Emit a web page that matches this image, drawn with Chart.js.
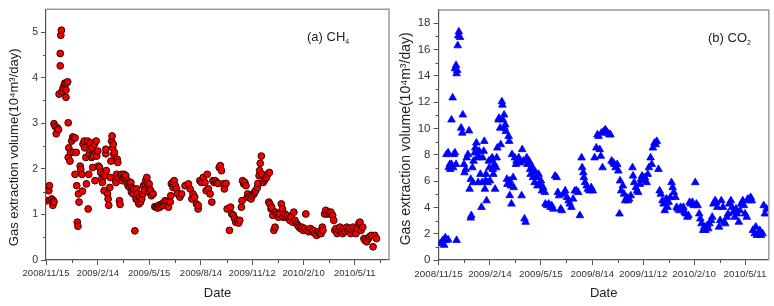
<!DOCTYPE html>
<html><head><meta charset="utf-8">
<script src="https://cdn.jsdelivr.net/npm/chart.js@4.4.0/dist/chart.umd.min.js"></script>
<style>
html,body{margin:0;padding:0;background:#fff;}
#wrap{position:relative;width:774px;height:306px;overflow:hidden;font-family:"Liberation Sans",Arial,sans-serif;}
canvas{position:absolute;top:0;}
#c1{left:0;} #c2{left:395px;}
.note{position:absolute;font-size:13px;color:#222;white-space:nowrap;line-height:15px;}
.note sub{font-size:7px;vertical-align:baseline;position:relative;top:3px;}
</style></head>
<body>
<div id="wrap">
<canvas id="c1" width="395" height="306"></canvas>
<canvas id="c2" width="379" height="306"></canvas>
<div class="note" style="left:307px;top:29px;">(a) CH<sub>4</sub></div>
<div class="note" style="left:708px;top:30px;">(b) CO<sub>2</sub></div>
</div>
<script>
// ---- data (x = days since 2008/11/15) ----
const tickDays = [0, 91, 181, 272, 362, 452, 542];
const tickLabels = ['2008/11/15','2009/2/14','2009/5/15','2009/8/14','2009/11/12','2010/2/10','2010/5/11'];
const minorDays = [45, 136, 226, 317, 407, 497, 587];

const ch4Days = [1,3,5,6,7,10,12,13,14,14,16,18,20,22,23,25,25,26,27,28,30,32,33,35,35,36,38,39,39,40,42,43,45,47,49,51,48,53,51,54,55,56,57,58,60,61,63,64,65,67,68,70,71,73,74,75,76,77,78,80,81,82,83,85,86,87,88,89,91,92,94,96,98,99,101,102,104,105,105,106,108,109,110,112,113,114,115,116,117,118,119,120,122,123,124,125,126,127,129,130,131,133,134,136,137,139,140,142,143,144,146,147,149,150,151,153,154,156,158,159,160,161,163,164,166,168,170,171,173,174,175,177,178,180,181,182,184,185,188,191,193,195,196,198,200,202,204,206,208,209,212,213,215,218,219,220,222,223,225,227,229,231,235,238,244,250,253,256,258,261,264,267,267,270,273,276,279,281,283,285,288,291,293,295,297,300,302,304,306,308,311,313,316,318,322,324,326,329,331,333,336,338,340,343,344,345,347,349,351,353,354,356,359,360,362,365,366,368,371,372,374,375,376,378,379,381,383,385,387,389,392,391,393,395,396,398,400,402,403,406,408,410,413,415,416,419,421,423,426,428,430,433,435,437,440,442,444,447,449,451,454,456,458,461,464,467,469,472,475,478,480,483,485,486,489,491,493,496,498,500,503,505,507,509,511,514,516,518,521,523,525,528,530,532,535,537,539,542,544,546,549,551,553,556,558,560,563,566,568,571,574,577,580];
const ch4Values = [1.30,1.59,1.52,1.63,1.30,1.34,1.20,1.30,1.27,2.99,2.93,2.77,2.90,2.86,3.64,4.26,4.53,4.93,5.04,3.70,3.77,3.84,3.88,3.73,3.57,3.88,3.91,3.01,2.25,2.46,2.17,2.36,2.61,2.70,2.67,2.68,2.36,2.36,1.88,1.63,0.83,0.74,1.45,1.27,2.06,1.99,1.88,1.51,2.54,2.61,2.46,2.25,1.67,2.61,1.12,1.88,2.32,2.43,2.57,2.25,2.46,2.03,2.28,2.54,1.74,2.36,2.61,2.28,2.39,2.06,2.03,1.92,1.78,1.70,1.88,1.52,1.85,2.33,2.43,1.96,1.45,1.34,1.20,1.59,1.81,2.17,2.61,2.72,2.46,2.54,2.32,2.36,1.74,1.70,1.88,2.21,2.14,1.81,1.30,1.22,1.85,1.88,1.74,1.81,1.88,1.78,1.85,1.70,1.74,1.63,1.70,1.59,1.70,1.49,1.59,1.45,1.56,0.64,1.34,1.56,1.45,1.30,1.23,1.38,1.27,1.34,1.45,1.63,1.52,1.67,1.74,1.81,1.70,1.49,1.67,1.56,1.52,1.41,1.45,1.17,1.16,1.17,1.14,1.20,1.16,1.22,1.20,1.25,1.20,1.30,1.27,1.20,1.16,1.27,1.41,1.67,1.70,1.59,1.74,1.63,1.56,1.45,1.38,1.45,1.63,1.67,1.56,1.34,1.45,1.38,1.23,1.12,1.20,1.74,1.70,1.81,1.70,1.52,1.88,1.56,1.45,1.27,1.74,1.70,1.74,1.70,1.68,2.03,2.07,1.96,1.67,1.56,1.68,1.12,0.65,1.16,1.01,0.98,0.91,0.83,0.87,0.81,0.87,1.16,1.30,1.74,1.67,1.70,1.63,1.38,1.45,1.38,1.41,1.34,1.41,1.45,1.49,1.52,1.59,1.68,1.85,1.96,2.12,2.28,1.88,1.70,1.74,1.78,1.81,1.88,1.92,1.27,1.23,1.12,1.16,0.98,0.65,0.72,1.05,1.01,0.94,1.01,1.23,1.12,0.94,1.01,0.94,0.98,0.91,0.87,0.94,0.83,1.05,0.87,0.80,0.76,0.72,0.69,0.72,0.65,0.69,1.01,0.65,0.62,0.69,0.62,0.65,0.58,0.54,0.62,0.58,0.58,0.72,0.65,1.01,1.09,1.01,1.05,1.01,1.05,0.98,0.87,0.65,0.69,0.58,0.65,0.72,0.62,0.58,0.69,0.62,0.72,0.65,0.69,0.58,0.65,0.72,0.62,0.58,0.69,0.80,0.83,0.65,0.72,0.47,0.43,0.40,0.47,0.51,0.54,0.29,0.54,0.47];

const co2Days = [3,6,8,10,12,14,17,14,17,18,20,21,23,23,25,26,27,29,31,29,31,32,33,32,34,35,36,38,40,42,43,45,46,48,50,52,54,55,57,58,57,60,61,62,64,65,67,68,70,71,72,74,76,77,78,80,81,82,83,84,85,87,89,90,91,93,95,96,97,99,100,102,103,104,106,107,109,110,112,113,114,116,117,118,119,121,122,124,125,126,126,128,129,130,132,133,135,137,138,140,142,144,147,148,150,152,154,156,157,160,162,163,165,167,168,170,172,174,175,177,179,181,183,185,188,189,192,195,198,200,203,206,209,211,213,216,218,221,224,227,230,232,235,238,241,244,247,250,253,254,256,257,259,262,264,267,270,273,276,279,281,283,285,287,288,290,292,295,297,299,302,304,306,309,311,313,316,318,320,321,323,326,328,330,333,335,337,340,343,344,346,349,351,353,356,358,360,363,365,368,370,372,375,377,379,382,384,386,389,391,393,396,398,400,403,405,407,410,412,414,416,419,421,423,426,428,430,433,435,437,440,442,444,446,449,451,454,456,458,461,463,465,468,470,472,475,477,479,482,484,486,489,491,493,496,498,500,503,505,507,510,512,514,517,519,521,524,526,528,531,533,535,538,540,542,545,547,549,552,554,556,559,561,563,566,568,570,573,575,577,580];
const co2Values = [1.25,1.38,1.50,1.13,1.70,1.50,1.55,8.02,8.15,7.02,7.27,6.89,7.27,10.65,12.33,7.02,8.02,8.15,7.27,14.54,14.79,14.16,14.41,1.50,16.29,17.04,17.34,16.92,10.03,9.65,11.03,7.27,6.64,6.89,7.77,8.02,9.82,5.39,6.14,3.38,3.20,7.02,5.89,7.52,8.15,8.52,8.90,7.77,5.89,7.89,8.27,6.52,4.01,5.89,7.77,8.27,9.02,5.39,6.02,6.52,4.51,5.89,7.52,7.02,6.02,7.64,7.77,6.89,6.52,7.27,5.39,7.02,7.77,8.52,10.65,10.78,10.03,8.77,12.03,11.78,10.65,11.03,10.03,10.28,9.77,6.14,5.76,9.40,9.02,6.02,4.90,5.64,4.26,8.02,6.27,5.51,7.77,7.27,7.52,7.64,7.77,7.39,4.89,8.40,7.52,3.13,2.88,7.77,7.27,7.52,6.89,6.52,7.14,6.27,6.77,5.89,6.64,6.27,5.64,6.52,5.76,6.02,5.26,5.51,5.14,4.26,4.14,4.26,4.01,4.14,3.88,6.39,6.27,5.14,4.89,3.88,3.76,5.01,5.26,4.76,4.51,4.26,4.01,4.64,5.26,5.26,5.14,3.38,7.77,7.02,6.64,6.27,5.89,5.64,5.39,5.26,5.51,5.26,7.77,8.52,9.52,9.40,8.40,7.89,9.65,7.02,9.77,9.90,9.77,9.65,9.52,9.52,7.52,7.39,7.27,7.02,7.27,6.77,3.51,6.02,5.26,5.64,5.01,4.51,4.76,4.51,4.64,4.89,7.02,6.39,5.89,5.51,5.26,5.14,5.76,6.14,6.39,6.02,6.27,5.89,6.52,7.02,7.77,7.27,8.52,8.90,8.77,9.02,6.89,5.26,5.01,4.51,4.26,3.76,4.64,4.01,4.39,4.76,5.89,5.51,5.14,4.76,4.01,3.88,3.76,4.01,3.88,4.01,3.63,3.51,3.26,3.38,4.39,4.26,4.39,4.14,5.89,4.26,4.14,3.51,3.13,2.76,2.26,2.51,2.26,2.63,2.38,2.76,3.01,3.26,4.26,4.51,4.39,4.01,2.51,3.01,4.51,4.01,2.88,2.76,3.26,3.51,4.26,4.51,4.01,3.63,3.26,3.88,3.51,2.88,3.76,4.26,4.51,4.14,3.51,3.26,4.64,4.51,4.76,4.51,2.26,2.01,2.51,1.88,2.01,2.26,1.88,2.01,4.14,3.51,3.88];

const ch4YTicks = [0,1,2,3,4,5];
const ch4YMinor = [0.5,1.5,2.5,3.5,4.5];
const co2YTicks = [0,2,4,6,8,10,12,14,16,18];
const co2YMinor = [1,3,5,7,9,11,13,15,17];

const FONT = '"Liberation Sans", Arial, sans-serif';
const AX = '#555';

const framePlugin = {
  id: 'frame',
  afterDraw(chart, args, o) {
    const {ctx, chartArea: a, scales} = chart;
    ctx.save();
    ctx.strokeStyle = '#9a9a9a';
    ctx.lineWidth = 1.5;
    ctx.beginPath();
    ctx.moveTo(a.left, a.top); ctx.lineTo(a.right, a.top); ctx.lineTo(a.right, a.bottom);
    ctx.stroke();
    ctx.strokeStyle = AX; ctx.lineWidth = 1;
    ctx.beginPath();
    for (const d of o.xMinor) {
      const px = Math.round(scales.x.getPixelForValue(d)) + 0.5;
      if (px > a.right) continue;
      ctx.moveTo(px, a.bottom); ctx.lineTo(px, a.bottom + 3);
    }
    for (const v of o.yMinor) {
      const py = Math.round(scales.y.getPixelForValue(v)) + 0.5;
      ctx.moveTo(a.left, py); ctx.lineTo(a.left - 3, py);
    }
    ctx.stroke();
    ctx.restore();
  }
};

function makeChart(id, days, vals, cfg) {
  const data = days.map((d, i) => ({x: d, y: vals[i]}));
  return new Chart(document.getElementById(id), {
    type: 'scatter',
    data: {datasets: [Object.assign({data}, cfg.point)]},
    plugins: [framePlugin],
    options: {
      responsive: false, animation: false,
      layout: {padding: cfg.pad},
      plugins: {legend: {display: false}, tooltip: {enabled: false}, frame: {xMinor: minorDays, yMinor: cfg.yMinor}},
      scales: {
        x: {
          type: 'linear', min: 0, max: cfg.xMax,
          afterBuildTicks: s => { s.ticks = tickDays.map(v => ({value: v})); },
          afterFit: s => { s.height = 46; },
          ticks: {autoSkip: false, maxRotation: 0, padding: 3, color: '#333',
            font: {family: FONT, size: cfg.xTickSize},
            callback: v => tickLabels[tickDays.indexOf(v)]},
          grid: {display: true, drawOnChartArea: false, drawTicks: true, tickLength: 5, tickColor: AX, color: AX},
          border: {display: true, color: AX, width: 1.2},
          title: {display: true, text: 'Date', color: '#222', font: {family: FONT, size: 13}, padding: {top: 0, bottom: 5}}
        },
        y: {
          type: 'linear', min: 0, max: cfg.yMax,
          afterBuildTicks: s => { s.ticks = cfg.yTicks.map(v => ({value: v})); },
          afterFit: s => { s.width = cfg.yWidth; },
          ticks: {padding: 3, color: '#333', font: {family: FONT, size: cfg.yTickSize}},
          grid: {display: true, drawOnChartArea: false, drawTicks: true, tickLength: 5, tickColor: AX, color: AX},
          border: {display: true, color: AX, width: 1.2},
          title: {display: true, text: cfg.yTitle, color: '#222', font: {family: FONT, size: cfg.yTitleSize}, padding: {top: cfg.yTitlePad, bottom: 0}}
        }
      }
    }
  });
}

makeChart('c1', ch4Days, ch4Values, {
  xMax: 602, yMax: 5.5, yTicks: ch4YTicks, yMinor: ch4YMinor, yWidth: 46,
  pad: {left: 0, right: 6, top: 7, bottom: 0},
  xTickSize: 9.5, yTickSize: 10.5, yTitleSize: 13, yTitlePad: 7,
  yTitle: 'Gas extraction volume(10\u2074m\u00b3/day)       ',
  point: {pointStyle: 'circle', pointRadius: 3.4, backgroundColor: '#f20000', borderColor: '#3a0000', borderWidth: 1}
});
makeChart('c2', co2Days, co2Values, {
  xMax: 584, yMax: 19, yTicks: co2YTicks, yMinor: co2YMinor, yWidth: 43.5,
  pad: {left: 0, right: 1, top: 7, bottom: 0},
  xTickSize: 9.8, yTickSize: 11.5, yTitleSize: 14, yTitlePad: 3,
  yTitle: 'Gas extraction volume(10\u2074m\u00b3/day)  ',
  point: {pointStyle: 'triangle', pointRadius: 4.4, backgroundColor: '#0000ff', borderColor: '#0000ff', borderWidth: 0.8}
});
</script>
</body></html>
